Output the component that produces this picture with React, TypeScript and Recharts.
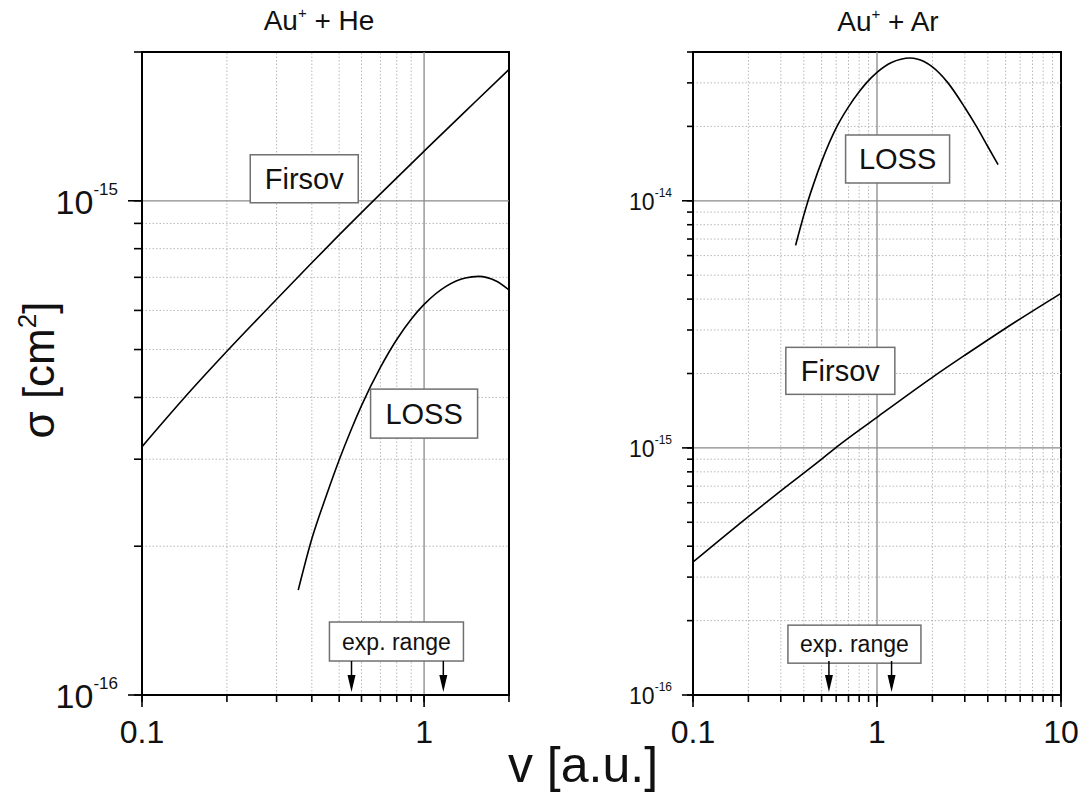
import React from "react";
import {
  LineChart,
  Line,
  XAxis,
  YAxis,
  ReferenceLine,
  ReferenceDot,
  ReferenceArea,
} from "recharts";

const FONT = '"Liberation Sans", Arial, Helvetica, sans-serif';

// Au+ + He : v [a.u.] and sigma [cm^2]
const heFirsovV = [0.1, 0.15, 0.2, 0.3, 0.4, 0.5, 0.7, 1.0, 1.5, 2.0];
const heFirsovSigma = [3.18e-16, 4.15e-16, 4.96e-16, 6.32e-16, 7.49e-16, 8.53e-16, 1.033e-15, 1.26e-15, 1.575e-15, 1.844e-15];
const heLossV = [0.358, 0.4, 0.45, 0.5, 0.55, 0.6, 0.7, 0.8, 0.9, 1.0, 1.2, 1.4, 1.56, 1.8, 2.0];
const heLossSigma = [1.63e-16, 2.07e-16, 2.53e-16, 2.99e-16, 3.43e-16, 3.85e-16, 4.6e-16, 5.24e-16, 5.76e-16, 6.17e-16, 6.72e-16, 6.98e-16, 7.03e-16, 6.88e-16, 6.6e-16];
const heExpRange = [0.553, 1.17];

// Au+ + Ar
const arFirsovV = [0.1, 0.2, 0.3, 0.5, 0.6, 1.0, 2.0, 3.0, 5.0, 10];
const arFirsovSigma = [3.45e-16, 5.27e-16, 6.7e-16, 9.0e-16, 1.005e-15, 1.33e-15, 1.93e-15, 2.37e-15, 3.05e-15, 4.22e-15];
const arLossV = [0.361, 0.4, 0.422, 0.45, 0.5, 0.606, 0.7, 0.8, 0.876, 1.0, 1.2, 1.35, 1.51, 1.65, 1.8, 2.0, 2.43, 3.0, 3.47, 4.0, 4.55];
const arLossSigma = [6.6e-15, 8.74e-15, 1.0e-14, 1.157e-14, 1.44e-14, 2.0e-14, 2.4e-14, 2.76e-14, 3.0e-14, 3.31e-14, 3.63e-14, 3.74e-14, 3.78e-14, 3.75e-14, 3.66e-14, 3.48e-14, 3.0e-14, 2.385e-14, 2.0e-14, 1.658e-14, 1.4e-14];
const arExpRange = [0.548, 1.2];

// axis ticks
const heVTicks = [0.1, 0.2, 0.3, 0.4, 0.5, 0.6, 0.7, 0.8, 0.9, 1, 2];
const heSigmaTicks = [1e-16, 2e-16, 3e-16, 4e-16, 5e-16, 6e-16, 7e-16, 8e-16, 9e-16, 1e-15, 2e-15];
const arVTicks = [0.1, 0.2, 0.3, 0.4, 0.5, 0.6, 0.7, 0.8, 0.9, 1, 2, 3, 4, 5, 6, 7, 8, 9, 10];
const arSigmaTicks = [
  1e-16, 2e-16, 3e-16, 4e-16, 5e-16, 6e-16, 7e-16, 8e-16, 9e-16,
  1e-15, 2e-15, 3e-15, 4e-15, 5e-15, 6e-15, 7e-15, 8e-15, 9e-15,
  1e-14, 2e-14, 3e-14, 4e-14,
];

const zip = (xs: number[], ys: number[]) => xs.map((x, i) => ({ x, y: ys[i] }));
const isDecade = (v: number) => Math.abs(Math.log10(v) - Math.round(Math.log10(v))) < 1e-6;

type TickStyle = { major: number; minor: number; gap: number; size: number; sup: number; supDy: number; base: number };

// built-in tick line gives the minor length; majors get an extra piece here
function makeYTick(st: TickStyle) {
  return (props: any) => {
    const { x, y, payload } = props;
    const edge = Number(x) + st.minor;
    const major = isDecade(payload.value);
    const exp = Math.round(Math.log10(payload.value));
    if (!major) return <g />;
    return (
      <g>
        <path d={`M${edge - st.major},${y}H${edge}`} stroke="#000" strokeWidth={1.6} fill="none" />
        <text x={edge - st.gap} y={Number(y) + st.base} textAnchor="end" fontFamily={FONT} fontSize={st.size} fill="#111">
          10
          <tspan dy={st.supDy} fontSize={st.sup}>{String(exp)}</tspan>
        </text>
      </g>
    );
  };
}

const X_MINOR = 7;
const XTick = (props: any) => {
  const { x, y, payload } = props;
  const edge = Number(y) - X_MINOR;
  if (!isDecade(payload.value)) return <g />;
  return (
    <g>
      <path d={`M${x},${edge}V${edge + 12}`} stroke="#000" strokeWidth={1.6} fill="none" />
      <text x={x} y={edge + 48} textAnchor="middle" fontFamily={FONT} fontSize={32} fill="#111">
        {String(payload.value)}
      </text>
    </g>
  );
};

type Box = { text: string; x: number; y: number; w: number; h: number; fs: number };

function boxShape(b: Box) {
  return (p: any) => (
    <g>
      <rect x={p.cx - b.w / 2} y={p.cy - b.h / 2} width={b.w} height={b.h} fill="#fff" stroke="#707070" strokeWidth={1.5} />
      <text x={p.cx} y={p.cy + b.fs * 0.36} textAnchor="middle" fontFamily={FONT} fontSize={b.fs} fill="#111">
        {b.text}
      </text>
    </g>
  );
}

const arrowShape = (p: any) => (
  <g>
    <line x1={p.cx} x2={p.cx} y1={p.cy - 34} y2={p.cy - 18} stroke="#000" strokeWidth={1.5} />
    <polygon points={`${p.cx - 4},${p.cy - 20} ${p.cx + 4},${p.cy - 20} ${p.cx},${p.cy - 3}`} fill="#000" />
  </g>
);

type PanelProps = {
  left: number;
  width: number;
  margin: { top: number; right: number; bottom: number; left: number };
  xDomain: [number, number];
  yDomain: [number, number];
  xTicks: number[];
  yTicks: number[];
  firsov: { x: number; y: number }[];
  loss: { x: number; y: number }[];
  boxes: Box[];
  arrows: number[];
  yTick: TickStyle;
};

function Panel(p: PanelProps) {
  const inside = (v: number, d: [number, number]) => v > d[0] * 1.0001 && v < d[1] * 0.9999;
  const xMinor = p.xTicks.filter((v) => !isDecade(v) && inside(v, p.xDomain));
  const yMinor = p.yTicks.filter((v) => !isDecade(v) && inside(v, p.yDomain));
  const xMajor = p.xTicks.filter((v) => isDecade(v) && inside(v, p.xDomain));
  const yMajor = p.yTicks.filter((v) => isDecade(v) && inside(v, p.yDomain));
  return (
    <div style={{ position: "absolute", left: p.left, top: 0 }}>
      <LineChart width={p.width} height={796} margin={p.margin}>
        <XAxis
          type="number"
          dataKey="x"
          scale="log"
          domain={p.xDomain}
          allowDataOverflow
          ticks={p.xTicks}
          interval={0}
          tickSize={X_MINOR}
          tickMargin={0}
          stroke="#000"
          tickLine={{ stroke: "#000", strokeWidth: 1.6 }}
          tick={XTick}
          height={60}
          axisLine={{ stroke: "#000", strokeWidth: 2 }}
        />
        <YAxis
          type="number"
          dataKey="y"
          scale="log"
          domain={p.yDomain}
          allowDataOverflow
          ticks={p.yTicks}
          interval={0}
          tickSize={p.yTick.minor}
          tickMargin={0}
          stroke="#000"
          tickLine={{ stroke: "#000", strokeWidth: 1.6 }}
          tick={makeYTick(p.yTick)}
          width={100}
          axisLine={{ stroke: "#000", strokeWidth: 2 }}
        />
        {xMinor.map((v) => (
          <ReferenceLine key={"xm" + v} x={v} stroke="#b8b8b8" strokeDasharray="1.5 2" />
        ))}
        {yMinor.map((v) => (
          <ReferenceLine key={"ym" + v} y={v} stroke="#b8b8b8" strokeDasharray="1.5 2" />
        ))}
        {xMajor.map((v) => (
          <ReferenceLine key={"xM" + v} x={v} stroke="#8a8a8a" strokeWidth={1.3} />
        ))}
        {yMajor.map((v) => (
          <ReferenceLine key={"yM" + v} y={v} stroke="#8a8a8a" strokeWidth={1.3} />
        ))}
        <Line data={p.firsov} dataKey="y" type="monotone" stroke="#000" strokeWidth={1.6} dot={false} isAnimationActive={false} />
        <Line data={p.loss} dataKey="y" type="monotone" stroke="#000" strokeWidth={1.6} dot={false} isAnimationActive={false} />
        <ReferenceArea
          x1={p.xDomain[0]}
          x2={p.xDomain[1]}
          y1={p.yDomain[0]}
          y2={p.yDomain[1]}
          fill="none"
          fillOpacity={0}
          stroke="#000"
          strokeWidth={2}
        />
        {p.boxes.map((b) => (
          <ReferenceDot key={b.text} x={b.x} y={b.y} ifOverflow="visible" shape={boxShape(b)} />
        ))}
        {p.arrows.map((v) => (
          <ReferenceDot key={"a" + v} x={v} y={p.yDomain[0]} ifOverflow="visible" shape={arrowShape} />
        ))}
      </LineChart>
    </div>
  );
}

export default function App() {
  return (
    <div style={{ position: "absolute", left: 0, top: 0, width: 1090, height: 796, background: "#fff", fontFamily: FONT }}>
      <Panel
        left={0}
        width={540}
        margin={{ top: 52, right: 31, bottom: 41, left: 42 }}
        xDomain={[0.1, 2]}
        yDomain={[1e-16, 2e-15]}
        xTicks={heVTicks}
        yTicks={heSigmaTicks}
        firsov={zip(heFirsovV, heFirsovSigma)}
        loss={zip(heLossV, heLossSigma)}
        boxes={[
          { text: "Firsov", x: 0.376, y: 1.108e-15, w: 108, h: 48, fs: 29 },
          { text: "LOSS", x: 1.0, y: 3.71e-16, w: 107, h: 49, fs: 29 },
          { text: "exp. range", x: 0.798, y: 1.283e-16, w: 134, h: 39, fs: 23 },
        ]}
        arrows={heExpRange}
        yTick={{ major: 14, minor: 8, gap: 24, size: 34, sup: 17, supDy: -19, base: 13 }}
      />
      <Panel
        left={560}
        width={530}
        margin={{ top: 52, right: 29, bottom: 41, left: 33 }}
        xDomain={[0.1, 10]}
        yDomain={[1e-16, 4e-14]}
        xTicks={arVTicks}
        yTicks={arSigmaTicks}
        firsov={zip(arFirsovV, arFirsovSigma)}
        loss={zip(arLossV, arLossSigma)}
        boxes={[
          { text: "LOSS", x: 1.294, y: 1.476e-14, w: 104, h: 48, fs: 29 },
          { text: "Firsov", x: 0.632, y: 2.05e-15, w: 109, h: 47, fs: 29 },
          { text: "exp. range", x: 0.754, y: 1.606e-16, w: 133, h: 38, fs: 23 },
        ]}
        arrows={arExpRange}
        yTick={{ major: 11, minor: 6, gap: 21, size: 23, sup: 12, supDy: -13, base: 9 }}
      />
      <svg width={1090} height={796} style={{ position: "absolute", left: 0, top: 0, pointerEvents: "none" }}>
        <text x={319} y={30} textAnchor="middle" fontFamily={FONT} fontSize={28} fill="#111" style={{ whiteSpace: "pre" }}>
          Au<tspan dy={-12} fontSize={15}>+</tspan>
          <tspan dy={12}>{" + He"}</tspan>
        </text>
        <text x={888} y={31} textAnchor="middle" fontFamily={FONT} fontSize={28} fill="#111" style={{ whiteSpace: "pre" }}>
          Au<tspan dy={-12} fontSize={15}>+</tspan>
          <tspan dy={12}>{" + Ar"}</tspan>
        </text>
        <text
          x={0}
          y={0}
          transform="translate(54,370) rotate(-90)"
          textAnchor="middle"
          fontFamily={FONT}
          fontSize={44}
          fill="#111"
          style={{ whiteSpace: "pre" }}
        >
          {"σ [cm"}
          <tspan dy={-18} fontSize={26}>2</tspan>
          <tspan dy={18}>]</tspan>
        </text>
        <text x={583} y={782} textAnchor="middle" fontFamily={FONT} fontSize={50} fill="#111">
          v [a.u.]
        </text>
      </svg>
    </div>
  );
}
